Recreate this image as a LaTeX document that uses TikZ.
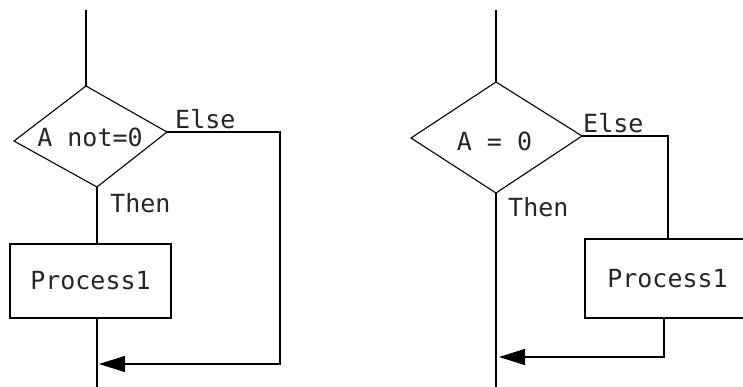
\documentclass[tikz,border=0pt]{standalone}
\usepackage{fontspec}
\newfontfamily\flowfont{DejaVu Sans Mono}
\usetikzlibrary{arrows.meta}
\begin{document}
\begin{tikzpicture}[x=1pt,y=-1pt,
  flow/.style={line width=1.1pt, line join=miter},
  txt/.style={font=\flowfont\fontsize{25}{30}\selectfont, inner sep=0pt, text=black!85},
  procbox/.style={draw, line width=1.1pt, rectangle, inner sep=0pt, text=black!85,
    font=\flowfont\fontsize{25}{30}\selectfont},
  back/.style={-{Triangle[length=26pt,width=16pt]}}]
\useasboundingbox (0,0) rectangle (743,387);
\clip (0,0) rectangle (743,387);

% ---- left flowchart: A not=0 ----
\coordinate (Lin) at (86,10);
\coordinate (LdT) at (86,86);
\coordinate (LdR) at (167,132);
\coordinate (LdB) at (97,187);
\coordinate (LdL) at (14,141);
\draw[flow] (LdT) -- (LdR) -- (LdB) -- (LdL) -- cycle;
\node[txt, anchor=base] (Lcond) at (90,147) {A not=0};
\node[procbox, minimum width=161pt, minimum height=74pt] (Lproc) at (90.5,281) {Process1};
\coordinate (Lout) at (97,387);
\coordinate (Lcorner) at (280,132);
\coordinate (Ljoin) at (99,364);
\draw[flow] (Lin) -- (LdT);
\draw[flow] (LdB) -- (LdB |- Lproc.north);
\draw[flow] (LdB |- Lproc.south) -- (Lout);
\draw[flow, back] (LdR) -- (Lcorner) -- (Lcorner |- Ljoin) -- (Ljoin);
\node[txt, anchor=base west] (Lelse) at (175,129) {Else};
\node[txt, anchor=base west] (Lthen) at (110,212) {Then};

% ---- right flowchart: A = 0 ----
\coordinate (Rin) at (496,10);
\coordinate (RdT) at (496,82);
\coordinate (RdR) at (582,136);
\coordinate (RdB) at (496,193);
\coordinate (RdL) at (411,138);
\draw[flow] (RdT) -- (RdR) -- (RdB) -- (RdL) -- cycle;
\node[txt, anchor=base] (Rcond) at (494.5,151) {A = 0};
\node[procbox, minimum width=165pt, minimum height=79pt] (Rproc) at (667.5,278.5) {Process1};
\coordinate (Rout) at (496,387);
\coordinate (Rcorner) at (668,136);
\coordinate (Rdrop) at (664,357);
\coordinate (Rjoin) at (499,357);
\draw[flow] (Rin) -- (RdT);
\draw[flow] (RdB) -- (Rout);
\draw[flow] (RdR) -- (Rcorner) -- (Rcorner |- Rproc.north);
\draw[flow, back] (Rdrop |- Rproc.south) -- (Rdrop) -- (Rjoin);
\node[txt, anchor=base west] (Relse) at (583,133) {Else};
\node[txt, anchor=base west] (Rthen) at (508,217) {Then};
\end{tikzpicture}
\end{document}
